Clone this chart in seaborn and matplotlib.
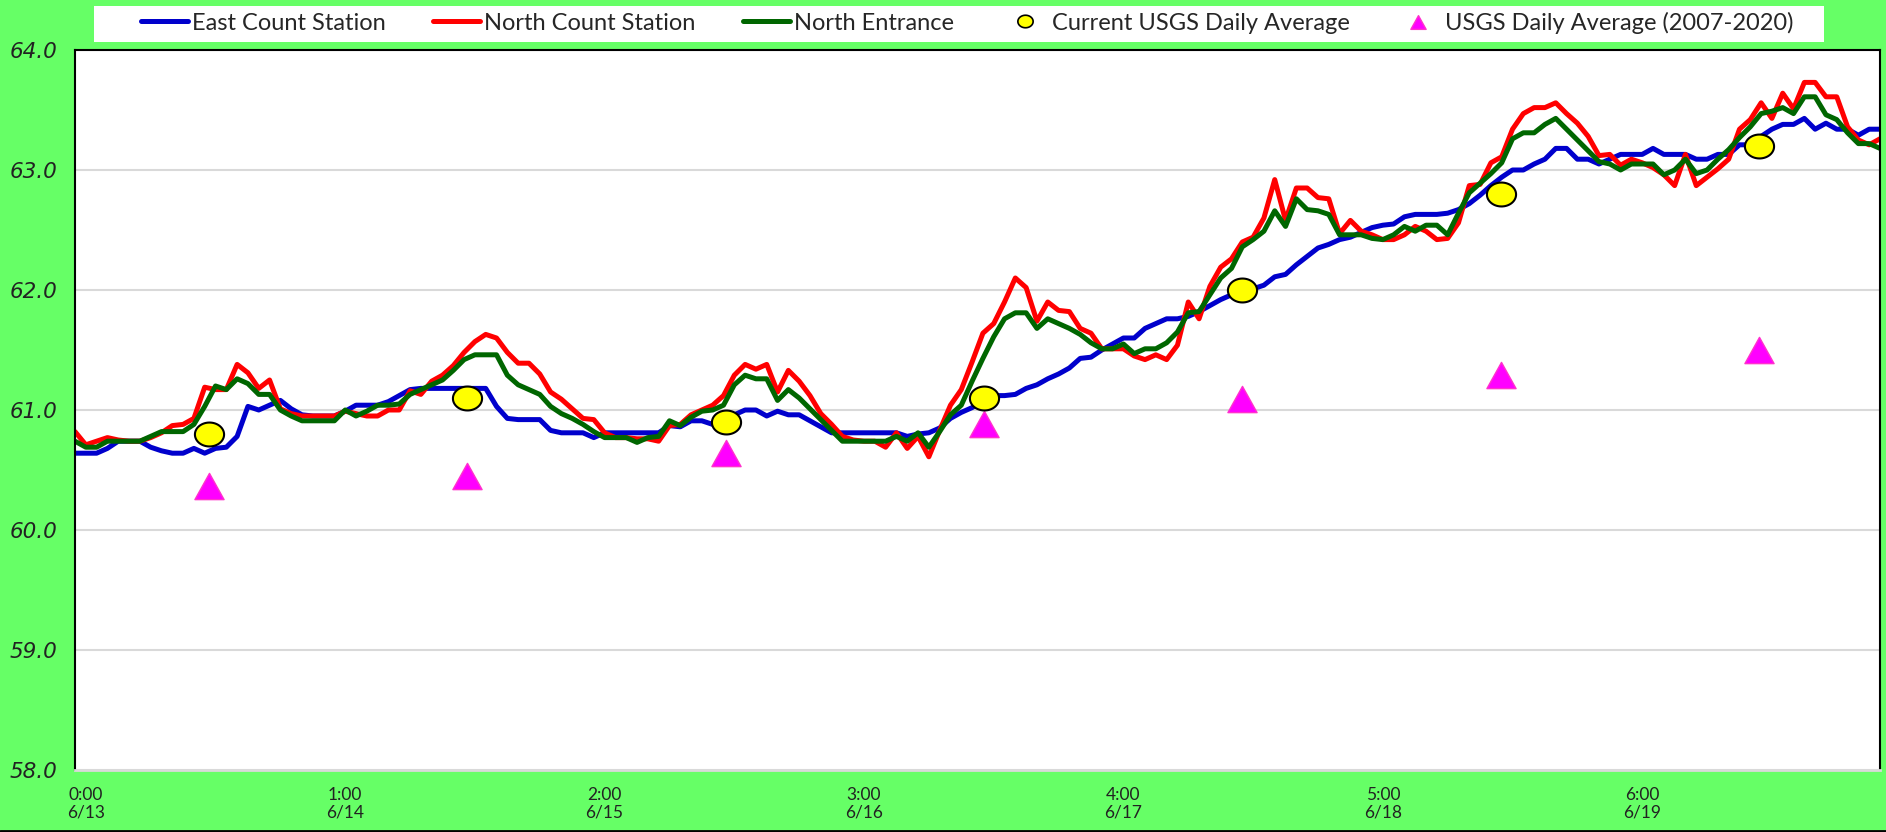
import numpy as np
import pandas as pd
import matplotlib.pyplot as plt
from matplotlib.path import Path
from matplotlib.lines import Line2D
from matplotlib.patches import Rectangle
import seaborn as sns

# hourly readings, 6/13 - 6/19 (one row per day)
east = [60.64, 60.64, 60.64, 60.68, 60.74, 60.74, 60.74, 60.69, 60.66, 60.64, 60.64, 60.68, 60.64, 60.68, 60.69, 60.78, 61.03, 61.00, 61.04, 61.08, 61.01, 60.96, 60.95, 60.95,
        60.95, 60.99, 61.04, 61.04, 61.04, 61.07, 61.12, 61.17, 61.18, 61.18, 61.18, 61.18, 61.18, 61.18, 61.18, 61.03, 60.93, 60.92, 60.92, 60.92, 60.83, 60.81, 60.81, 60.81,
        60.77, 60.81, 60.81, 60.81, 60.81, 60.81, 60.81, 60.87, 60.86, 60.91, 60.91, 60.88, 60.89, 60.96, 61.00, 61.00, 60.95, 60.99, 60.96, 60.96, 60.91, 60.86, 60.81, 60.81,
        60.81, 60.81, 60.81, 60.81, 60.81, 60.78, 60.80, 60.81, 60.85, 60.93, 60.98, 61.02, 61.08, 61.12, 61.12, 61.13, 61.18, 61.21, 61.26, 61.30, 61.35, 61.43, 61.44, 61.50,
        61.55, 61.60, 61.60, 61.68, 61.72, 61.76, 61.76, 61.78, 61.82, 61.87, 61.92, 61.96, 61.99, 62.01, 62.04, 62.11, 62.13, 62.21, 62.28, 62.35, 62.38, 62.42, 62.44, 62.48,
        62.52, 62.54, 62.55, 62.61, 62.63, 62.63, 62.63, 62.64, 62.67, 62.72, 62.79, 62.87, 62.94, 63.00, 63.00, 63.05, 63.09, 63.18, 63.18, 63.09, 63.09, 63.05, 63.09, 63.13,
        63.13, 63.13, 63.18, 63.13, 63.13, 63.13, 63.09, 63.09, 63.13, 63.13, 63.21, 63.21, 63.28, 63.34, 63.38, 63.38, 63.43, 63.34, 63.39, 63.34, 63.34, 63.29, 63.34, 63.34]

north = [60.82, 60.71, 60.74, 60.77, 60.75, 60.74, 60.74, 60.77, 60.81, 60.87, 60.88, 60.93, 61.19, 61.17, 61.17, 61.38, 61.31, 61.18, 61.25, 61.01, 60.97, 60.95, 60.95, 60.95,
         60.95, 60.99, 60.97, 60.95, 60.95, 61.00, 61.00, 61.16, 61.13, 61.24, 61.29, 61.37, 61.48, 61.57, 61.63, 61.60, 61.48, 61.39, 61.39, 61.30, 61.15, 61.09, 61.01, 60.93,
         60.92, 60.81, 60.77, 60.77, 60.76, 60.76, 60.74, 60.87, 60.88, 60.96, 61.00, 61.04, 61.12, 61.29, 61.38, 61.34, 61.38, 61.15, 61.33, 61.24, 61.12, 60.97, 60.88, 60.78,
         60.75, 60.74, 60.74, 60.69, 60.81, 60.68, 60.78, 60.61, 60.83, 61.04, 61.17, 61.40, 61.64, 61.72, 61.90, 62.10, 62.02, 61.74, 61.90, 61.83, 61.82, 61.68, 61.64, 61.51,
         61.51, 61.51, 61.45, 61.42, 61.46, 61.42, 61.54, 61.90, 61.76, 62.03, 62.19, 62.26, 62.40, 62.44, 62.60, 62.92, 62.58, 62.85, 62.85, 62.77, 62.76, 62.47, 62.58, 62.49,
         62.46, 62.42, 62.42, 62.46, 62.53, 62.49, 62.42, 62.43, 62.56, 62.87, 62.88, 63.06, 63.11, 63.34, 63.47, 63.52, 63.52, 63.56, 63.47, 63.39, 63.28, 63.12, 63.13, 63.04,
         63.09, 63.06, 63.02, 62.96, 62.87, 63.13, 62.87, 62.94, 63.01, 63.09, 63.34, 63.42, 63.56, 63.43, 63.64, 63.51, 63.73, 63.73, 63.61, 63.61, 63.36, 63.25, 63.21, 63.26]

entrance = [60.74, 60.69, 60.69, 60.74, 60.74, 60.74, 60.74, 60.78, 60.82, 60.82, 60.82, 60.88, 61.03, 61.20, 61.17, 61.26, 61.22, 61.13, 61.13, 61.00, 60.95, 60.91, 60.91, 60.91,
            60.91, 61.00, 60.95, 60.99, 61.04, 61.04, 61.05, 61.13, 61.17, 61.21, 61.25, 61.33, 61.42, 61.46, 61.46, 61.46, 61.29, 61.21, 61.17, 61.13, 61.03, 60.97, 60.93, 60.88,
            60.82, 60.77, 60.77, 60.77, 60.73, 60.77, 60.78, 60.91, 60.87, 60.94, 60.99, 61.00, 61.04, 61.21, 61.29, 61.26, 61.26, 61.08, 61.17, 61.10, 61.01, 60.92, 60.83, 60.74,
            60.74, 60.74, 60.74, 60.74, 60.78, 60.74, 60.81, 60.69, 60.82, 60.96, 61.04, 61.24, 61.43, 61.61, 61.76, 61.81, 61.81, 61.68, 61.76, 61.72, 61.68, 61.63, 61.56, 61.51,
            61.51, 61.55, 61.47, 61.51, 61.51, 61.56, 61.65, 61.81, 61.82, 61.96, 62.10, 62.18, 62.36, 62.42, 62.49, 62.66, 62.53, 62.76, 62.67, 62.66, 62.63, 62.46, 62.46, 62.46,
            62.43, 62.42, 62.46, 62.53, 62.49, 62.54, 62.54, 62.46, 62.64, 62.81, 62.89, 62.97, 63.06, 63.26, 63.31, 63.31, 63.38, 63.43, 63.34, 63.25, 63.16, 63.07, 63.05, 63.00,
            63.05, 63.05, 63.05, 62.96, 63.00, 63.09, 62.97, 63.00, 63.09, 63.17, 63.27, 63.36, 63.47, 63.49, 63.52, 63.47, 63.61, 63.61, 63.46, 63.42, 63.31, 63.22, 63.22, 63.18]

hours = list(range(len(east)))

# daily averages
avg_hours = [12.4, 36.3, 60.2, 84.1, 108.0, 131.9, 155.8]
current_avg = [60.8, 61.1, 60.9, 61.1, 62.0, 62.8, 63.2]
hist_avg = [60.37, 60.45, 60.64, 60.88, 61.09, 61.29, 61.5]

tick_hours = [1, 25, 49, 73, 97, 121, 145]
tick_labels = ['0:00\n6/13', '1:00\n6/14', '2:00\n6/15', '3:00\n6/16',
               '4:00\n6/17', '5:00\n6/18', '6:00\n6/19']

names = ['East Count Station', 'North Count Station', 'North Entrance']
colors = ['#0000CC', '#FF0000', '#006600']

df = pd.DataFrame({
    'hour': hours * 3,
    'temp': east + north + entrance,
    'series': [names[0]] * len(east) + [names[1]] * len(north) + [names[2]] * len(entrance),
})

sns.set_style("white")
plt.rcParams['font.family'] = ['Lato', 'DejaVu Sans']

# excel-ish squashed markers
t = np.linspace(0, 2 * np.pi, 60)
ellipse = Path(np.column_stack([np.cos(t), 0.82 * np.sin(t)]), closed=True)
tri = Path([(-0.5, -0.45), (0.5, -0.45), (0.0, 0.45), (-0.5, -0.45)], closed=True)

fig = plt.figure(figsize=(18.86, 8.32), dpi=100, facecolor='#66FF66')
ax = fig.add_axes([75 / 1886, 1 - 770 / 832, 1805 / 1886, 720 / 832])
ax.set_facecolor('white')

sns.lineplot(data=df, x='hour', y='temp', hue='series', hue_order=names,
             palette=colors, linewidth=3.6, legend=False, ax=ax)
sns.scatterplot(x=avg_hours, y=hist_avg, marker=tri, s=21 ** 2, color='#FF00FF',
                edgecolor='#FF33CC', linewidth=1, zorder=5, ax=ax)
sns.scatterplot(x=avg_hours, y=current_avg, marker=ellipse, s=21 ** 2, color='#FFFF00',
                edgecolor='black', linewidth=1.5, zorder=6, ax=ax)

ax.set_xlim(0, 167)
ax.set_ylim(58, 64)
ax.set_yticks(np.arange(58, 64.1, 1))
ax.set_yticklabels([f'{v:.1f}' for v in np.arange(58, 64.1, 1)],
                   fontstyle='italic', family='DejaVu Sans', fontsize=15.5, color='#222222')
ax.set_xticks(tick_hours)
ax.set_xticklabels(tick_labels, fontsize=12.5, color='#222222', linespacing=1.05)
ax.tick_params(axis='x', length=0, pad=12.5)
ax.tick_params(axis='y', length=0, pad=13)
ax.set_xlabel('')
ax.set_ylabel('')
ax.yaxis.grid(True, color='#D9D9D9', linewidth=1.5)
ax.xaxis.grid(False)
for side in ['left', 'top', 'right']:
    ax.spines[side].set_color('black')
    ax.spines[side].set_linewidth(1.5)
ax.spines['bottom'].set_color('#D9D9D9')
ax.spines['bottom'].set_linewidth(2)

# legend box across the top, one entry per slot like the excel legend
fig.patches.append(Rectangle((94 / 1886, 1 - 42 / 832), 1730 / 1886, 36 / 832,
                             transform=fig.transFigure, facecolor='white', edgecolor='none'))
handles = [Line2D([], [], color=c, linewidth=3.6) for c in colors]
handles.append(Line2D([], [], ls='', marker=ellipse, markersize=11, markerfacecolor='#FFFF00',
                      markeredgecolor='black', markeredgewidth=1.2))
handles.append(Line2D([], [], ls='', marker=tri, markersize=11, markerfacecolor='#FF00FF',
                      markeredgecolor='#FF33CC'))
labels = names + ['Current USGS Daily Average', 'USGS Daily Average (2007-2020)']
slot_left = [141, 433, 743, 1001, 1394]
for h, lab, x0 in zip(handles, labels, slot_left):
    fig.legend([h], [lab], loc='center left', frameon=False,
               bbox_to_anchor=(x0 / 1886, 1 - 23 / 832),
               borderaxespad=0, borderpad=0, handlelength=2.0, handletextpad=0.15,
               fontsize=17)

# thin dark edge along the bottom of the image
fig.add_artist(Line2D([0, 1], [0.0015, 0.0015], transform=fig.transFigure, color='black', lw=2))

fig.savefig('out.png', dpi=100, facecolor=fig.get_facecolor())
